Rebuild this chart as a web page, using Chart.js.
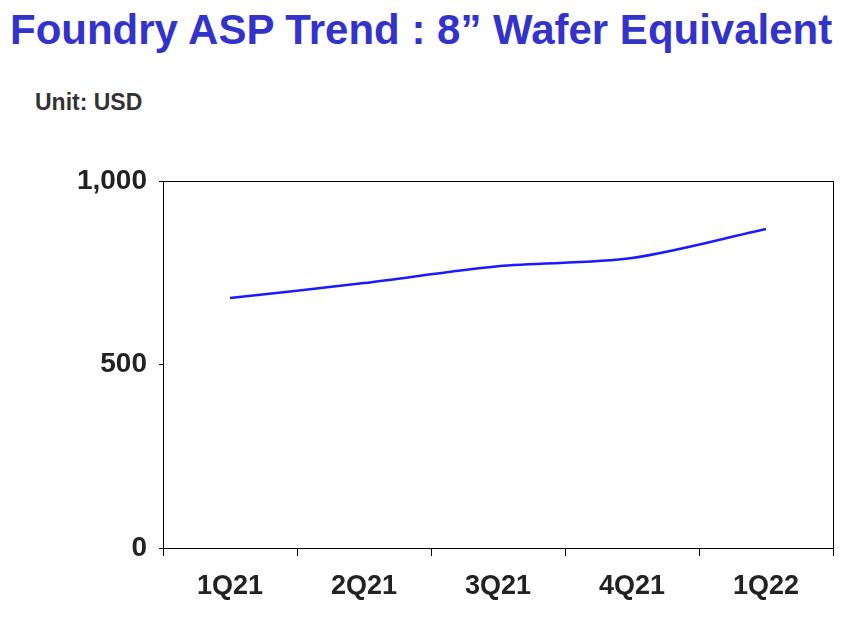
<!DOCTYPE html>
<html><head><meta charset="utf-8">
<script src="https://cdn.jsdelivr.net/npm/chart.js@4"></script>
<style>
body{margin:0;background:#fff;font-family:"Liberation Sans",Arial,sans-serif}
#wrap{position:relative;width:865px;height:632px}
#title{position:absolute;left:10px;top:6px;font-size:42px;font-weight:bold;color:#3333cc;white-space:nowrap}
#unit{position:absolute;left:35px;top:89px;font-size:23px;font-weight:bold;color:#333}
canvas{position:absolute;left:0;top:0}
</style></head><body>
<div id="wrap">
<div id="title">Foundry ASP Trend : 8” Wafer Equivalent</div>
<div id="unit">Unit: USD</div>
<canvas id="c" width="865" height="632"></canvas>
</div>
<script>
const quarters = ["1Q21", "2Q21", "3Q21", "4Q21", "1Q22"]
const aspValues = [681, 722, 768, 790, 869]

const boxPlugin = {
  id: "box",
  afterDraw(chart) {
    const { ctx, chartArea: a } = chart
    ctx.save()
    ctx.strokeStyle = "#000"
    ctx.lineWidth = 1
    ctx.strokeRect(a.left + 0.5, a.top + 0.5, a.right - a.left, a.bottom - a.top)
    ctx.restore()
  }
}

new Chart(document.getElementById("c"), {
  type: "line",
  data: {
    labels: quarters,
    datasets: [{
      data: aspValues,
      borderColor: "#1a1aff",
      borderWidth: 2.5,
      pointRadius: 0,
      tension: 0.3,
      fill: false
    }]
  },
  options: {
    responsive: false,
    animation: false,
    layout: { padding: { top: 181, right: 32, left: 0, bottom: 0 } },
    plugins: { legend: { display: false }, tooltip: { enabled: false } },
    scales: {
      x: {
        offset: true,
        grid: { offset: true, drawOnChartArea: false, tickLength: 8, color: "#000" },
        border: { color: "#000" },
        ticks: { color: "#222", font: { family: "Liberation Sans", size: 27, weight: "bold" }, padding: 14 },
        afterFit(s) { s.height = 84 }
      },
      y: {
        min: 0, max: 1000,
        ticks: { stepSize: 500, color: "#222", font: { family: "Liberation Sans", size: 28, weight: "bold" }, padding: 12,
          callback: v => v.toLocaleString("en-US") },
        grid: { drawOnChartArea: false, tickLength: 4, color: "#000" },
        border: { color: "#000" },
        afterFit(s) { s.width = 163 }
      }
    }
  },
  plugins: [boxPlugin]
})
</script>
</body></html>
